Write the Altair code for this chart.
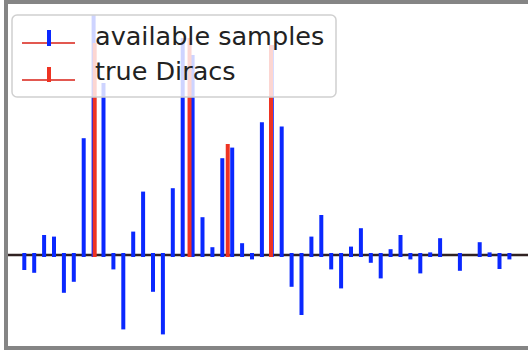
import altair as alt
import pandas as pd

# Sample index and amplitude of each available (filtered) sample
sample_index = list(range(50))
sample_value = [
    -0.065, -0.079, 0.090, 0.082, -0.179, -0.124, 0.574, 1.190, 0.850, -0.062,
    -0.362, 0.107, 0.307, -0.174, -0.387, 0.324, 1.075, 0.990, 0.179, 0.029,
    0.474, 0.527, 0.049, -0.012, 0.654, 1.040, 0.632, -0.149, -0.290, 0.082,
    0.190, -0.062, -0.157, 0.032, 0.124, -0.029, -0.107, 0.019, 0.090, -0.012,
    -0.082, 0.003, 0.074, 0.000, -0.069, 0.000, 0.054, 0.003, -0.060, -0.012,
]

# Locations and amplitudes of the true Diracs
dirac_pos = [7.11, 16.69, 20.55, 24.92]
dirac_amp = [1.05, 1.075, 0.545, 1.04]

legend_labels = ["available samples", "true Diracs"]

BLUE = "#0a28ff"
RED = "#ee3322"
SPINE = "#858585"

samples = pd.DataFrame({"n": sample_index, "value": sample_value})
samples["base"] = 0.0
samples = samples[samples["value"] != 0]

diracs = pd.DataFrame({"n": dirac_pos, "value": dirac_amp})
diracs["base"] = 0.0

xscale = alt.Scale(domain=[-2.4545, 50.879], nice=False, zero=False)
yscale = alt.Scale(domain=[-0.49, 1.275], nice=False, zero=False)

x = alt.X("n:Q", scale=xscale, axis=None)
y = alt.Y("value:Q", scale=yscale, axis=None)

sample_stems = alt.Chart(samples).mark_rule(
    color=BLUE, strokeWidth=4, strokeCap="square"
).encode(x=x, y=y, y2="base:Q")

dirac_stems = alt.Chart(diracs).mark_rule(
    color=RED, strokeWidth=4, strokeCap="square"
).encode(x=x, y=y, y2="base:Q")

baseline = alt.Chart(pd.DataFrame({"v": [0.0]})).mark_rule(
    color="#302222", strokeWidth=2.5
).encode(
    y=alt.Y("v:Q", scale=yscale, axis=None),
    x=alt.value(8),
    x2=alt.value(528),
)

# Axes frame: left, top and bottom spines
left_spine = alt.Chart().mark_rule(color=SPINE, strokeWidth=4).encode(
    x=alt.value(6), y=alt.value(0), y2=alt.value(350)
)
top_spine = alt.Chart().mark_rule(color=SPINE, strokeWidth=4).encode(
    x=alt.value(4), x2=alt.value(528), y=alt.value(2)
)
bottom_spine = alt.Chart().mark_rule(color=SPINE, strokeWidth=4).encode(
    x=alt.value(4), x2=alt.value(528), y=alt.value(348)
)

# Legend box with semi-transparent background
legend_box = alt.Chart().mark_rect(
    fill="white", fillOpacity=0.8, stroke="#d0d0d0", strokeWidth=1.5, cornerRadius=5
).encode(
    x=alt.value(12), x2=alt.value(336), y=alt.value(15), y2=alt.value(97)
)

def handle(y_line, stem_top, stem_bottom, stem_color):
    hline = alt.Chart().mark_rule(color="#e25850", strokeWidth=2).encode(
        x=alt.value(22), x2=alt.value(75), y=alt.value(y_line)
    )
    vline = alt.Chart().mark_rule(color=stem_color, strokeWidth=4).encode(
        x=alt.value(49), y=alt.value(stem_top), y2=alt.value(stem_bottom)
    )
    return hline + vline

handle1 = handle(43, 30, 46, BLUE)
handle2 = handle(80, 67, 82, RED)

label1 = alt.Chart().mark_text(
    text=legend_labels[0], align="left", baseline="alphabetic",
    font="DejaVu Sans", fontSize=25.5, color="#222222"
).encode(x=alt.value(95), y=alt.value(45))
label2 = alt.Chart().mark_text(
    text=legend_labels[1], align="left", baseline="alphabetic",
    font="DejaVu Sans", fontSize=25.5, color="#222222"
).encode(x=alt.value(95), y=alt.value(80))

chart = alt.layer(
    baseline, sample_stems, dirac_stems,
    left_spine, top_spine, bottom_spine,
    legend_box, handle1, handle2, label1, label2,
).properties(
    width=528, height=353, padding=0, autosize="none", background="white"
).configure_view(strokeWidth=0)

chart.save("out.html", embed_options={"renderer": "svg", "actions": False})
